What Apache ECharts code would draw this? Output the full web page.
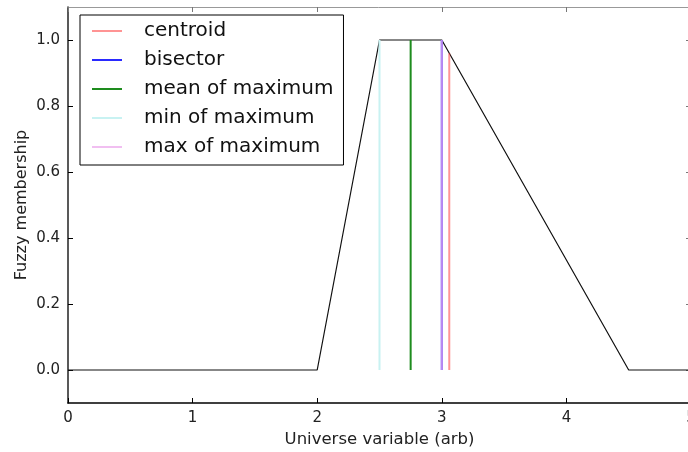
<!DOCTYPE html>
<html>
<head>
<meta charset="utf-8">
<script src="https://cdn.jsdelivr.net/npm/echarts@6/dist/echarts.min.js"></script>
<style>
html,body{margin:0;padding:0;background:#fff;}
#chart{width:688px;height:452px;}
</style>
</head>
<body>
<div id="chart"></div>
<script>
// Membership function breakpoints (trapezoid)
const universeX = [0, 2, 2.5, 3, 4.5, 5];
const membership = [0, 0, 1, 1, 0, 0];

// Defuzzification results
const methodNames = ['centroid', 'bisector', 'mean of maximum', 'min of maximum', 'max of maximum'];
const methodX = [3.06, 3.0, 2.75, 2.5, 3.0];
const methodTop = [0.96, 1.0, 1.0, 1.0, 1.0];
const methodColors = ['rgba(255,60,60,0.55)', '#2a2aff', '#1e8c1e', '#c8f2f2', 'rgba(236,170,236,0.75)'];

// Tick labels
const xTicks = [0, 1, 2, 3, 4, 5];
const yTicks = [0, 0.2, 0.4, 0.6, 0.8, 1.0];

const FONT = 'DejaVu Sans';

const series = [{
  type: 'line',
  name: 'membership',
  data: universeX.map((x, i) => [x, membership[i]]),
  showSymbol: false,
  lineStyle: {color: '#111', width: 1.2},
  itemStyle: {color: '#111'},
  silent: true,
  z: 2
}];
methodNames.forEach((n, i) => {
  series.push({
    type: 'line',
    name: n,
    data: [[methodX[i], 0], [methodX[i], methodTop[i]]],
    showSymbol: false,
    lineStyle: {color: methodColors[i], width: 2},
    itemStyle: {color: methodColors[i]},
    z: 3 + i
  });
});

const chart = echarts.init(document.getElementById('chart'), null, {renderer: 'canvas'});
chart.setOption({
  animation: false,
  backgroundColor: '#fff',
  grid: {left: 68, right: -3, top: 7, bottom: 49, containLabel: false, outerBoundsMode: 'none'},
  legend: {
    data: methodNames,
    orient: 'vertical',
    left: 80,
    top: 15,
    icon: 'rect',
    itemWidth: 30,
    itemHeight: 2,
    itemGap: 9,
    padding: [6, 10, 8, 12],
    borderColor: '#000',
    borderWidth: 1,
    backgroundColor: '#fff',
    selectedMode: false,
    textStyle: {fontFamily: FONT, fontSize: 20, color: '#111', lineHeight: 20, padding: [0, 0, 0, 17]}
  },
  xAxis: [{
    type: 'value', min: 0, max: 5, interval: 1,
    name: 'Universe variable (arb)', nameLocation: 'middle', nameGap: 26,
    nameTextStyle: {fontFamily: FONT, fontSize: 16.5, color: '#222'},
    axisLine: {onZero: false, lineStyle: {color: '#000', width: 1.5}},
    axisTick: {inside: true, length: 5, lineStyle: {color: '#000'}, customValues: xTicks},
    axisLabel: {fontFamily: FONT, fontSize: 15, color: '#222', margin: 8, customValues: xTicks, formatter: v => String(v)},
    splitLine: {show: false}
  }, {
    type: 'value', min: 0, max: 5, position: 'top',
    axisLine: {onZero: false, lineStyle: {color: '#999', width: 1}},
    axisTick: {inside: true, length: 5, lineStyle: {color: '#777'}, customValues: xTicks},
    axisLabel: {show: false},
    splitLine: {show: false}
  }],
  yAxis: [{
    type: 'value', min: -0.1, max: 1.1,
    name: 'Fuzzy membership', nameLocation: 'middle', nameGap: 38, nameMoveOverlap: false,
    nameTextStyle: {fontFamily: FONT, fontSize: 16, color: '#222'},
    axisLine: {onZero: false, lineStyle: {color: '#222', width: 1.5}},
    axisTick: {inside: true, length: 5, lineStyle: {color: '#000'}, customValues: yTicks},
    axisLabel: {fontFamily: FONT, fontSize: 15, color: '#222', margin: 8, customValues: yTicks, formatter: v => v.toFixed(1)},
    splitLine: {show: false}
  }, {
    type: 'value', min: -0.1, max: 1.1, position: 'right',
    axisLine: {onZero: false, lineStyle: {color: '#999', width: 1}},
    axisTick: {inside: true, length: 5, lineStyle: {color: '#777'}, customValues: yTicks},
    axisLabel: {show: false},
    splitLine: {show: false}
  }],
  series: series
});
</script>
</body>
</html>
